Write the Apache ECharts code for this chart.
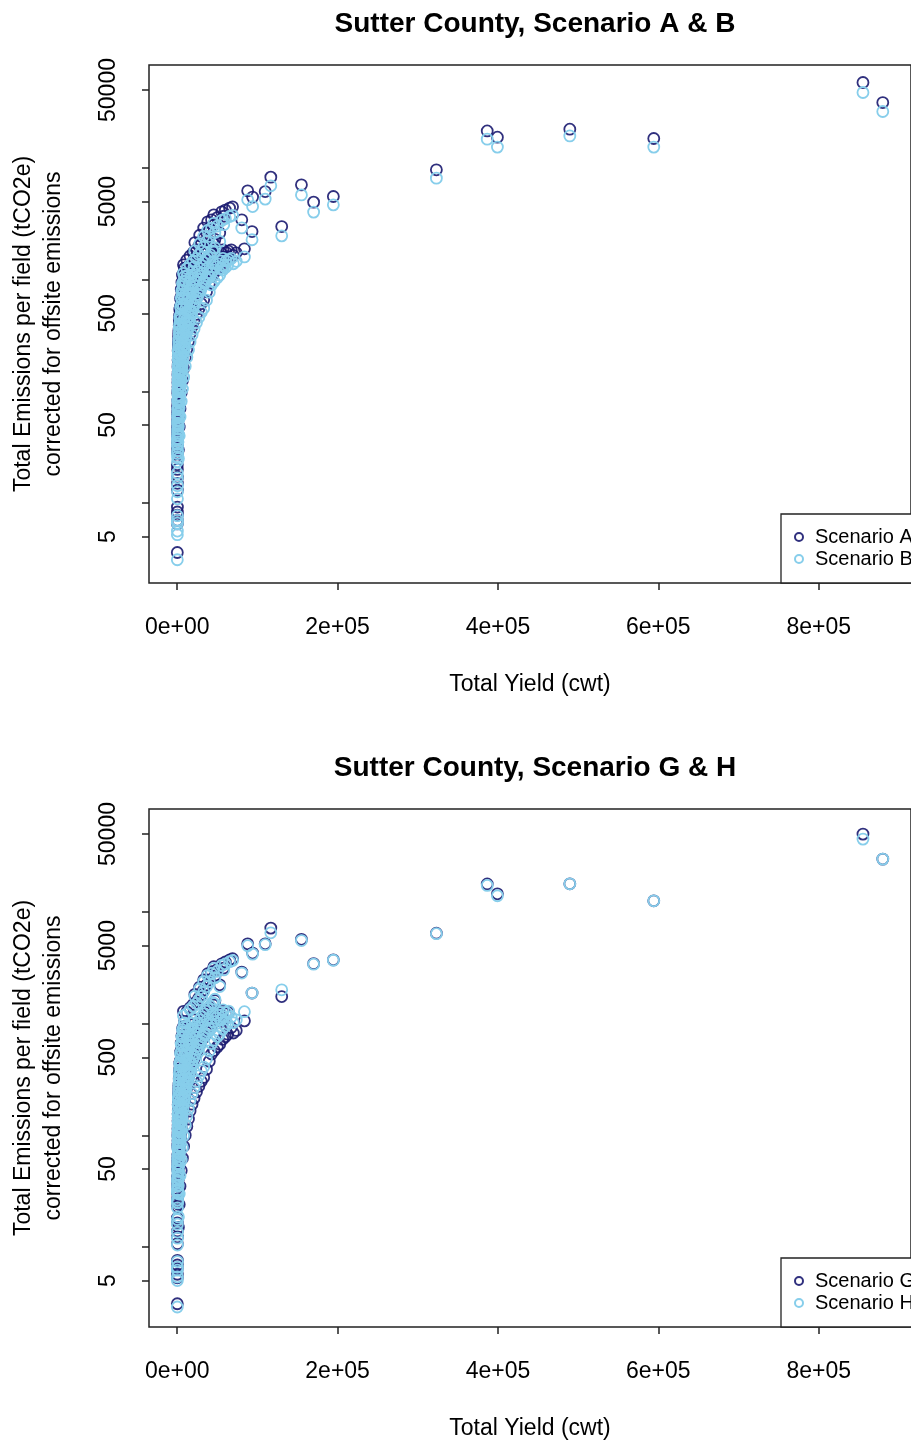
<!DOCTYPE html>
<html>
<head>
<meta charset="utf-8">
<script src="https://cdn.jsdelivr.net/npm/echarts@6/dist/echarts.min.js"></script>
<style>
  html, body { margin: 0; padding: 0; background: #fff; }
  #chart { width: 911px; height: 1441px; }
</style>
</head>
<body>
<div id="chart"></div>
<script>
// Total yield per field (cwt); each index is one field, shared by all scenarios.
// Groups: small fields, mid fill, lower branch, upper branch, body fill, large fields.
const yieldCwt = [
  100,150,200,250,120,180,300,350,400,450,
  500,600,650,700,800,900,1000,1100,1200,1300,
  1400,1600,1900,2300,2800,3300,3800,4300,4900,5500,
  6100,6700,7300,7800,8300,9000,300,500,700,900,
  1100,1400,1800,2500,3000,3600,4200,5000,5800,6500,
  250,400,600,800,1000,1200,1500,2000,2600,3200,
  200,150,300,250,350,
  3000,4000,5000,6000,7000,8000,9000,10000,11000,12000,
  13000,14000,15000,16500,18000,19500,21000,23000,25000,27000,
  29000,31000,34000,37000,40000,44000,46000,2000,2500,3500,
  1500,2500,3500,5000,6500,8000,10000,12000,14000,16000,
  18500,21000,24000,27000,30000,33000,36500,40000,42800,46000,
  50000,53000,56700,60000,62800,67400,73600,70000,
  7800,12000,16000,20000,24300,27000,30400,33000,36600,40000,
  42800,45600,50000,53000,55500,60000,65300,69000,38000,47000,
  58000,33000,28000,22000,
  600,900,1200,1500,1800,2100,2400,2800,3200,3600,
  4000,4500,5000,5500,6000,6600,7200,7800,8500,9200,
  10000,11000,12000,13000,14000,15000,16500,18000,19500,21000,
  300,500,700,900,1100,1300,1600,1900,2200,2600,
  3000,3400,3900,4400,5000,5600,6200,6900,7600,8400,
  9200,10000,11000,12000,13200,14500,16000,17500,19000,21000,
  22500,24000,26000,28000,30000,32000,34500,37000,39500,42000,
  23000,25500,28000,30500,33000,35500,38000,41000,44000,47000,
  15000,17000,19000,21000,11000,13000,9500,8000,10500,12500,
  45000,48000,51000,54000,57000,61000,64000,58000,55000,
  116700,154900,87860,109700,94000,170100,194700,323200,386600,399300,
  489600,594300,855200,879900,130300,93300,80500,83800
];

// Total emissions per field (tCO2e), corrected for offsite emissions
const scenarioA = [
  3.6,7.8,8.3,9.2,22,20,28,33,38,44,
  52,60,70,82,95,110,128,150,175,205,
  240,280,320,360,410,460,520,580,650,720,
  800,880,960,1060,1160,1270,40,65,100,140,
  190,260,300,390,480,560,680,820,950,1100,
  31,48,75,120,165,230,270,340,440,540,
  7.0,6.5,15,13,17,
  150,180,250,210,300,380,290,450,360,520,
  420,640,500,760,600,900,700,1050,820,1200,
  950,1350,1100,1500,1250,1700,2100,100,130,200,
  30,48,70,97,125,160,200,240,280,330,
  380,430,490,550,610,660,780,920,1070,1150,
  1240,1310,1450,1530,1610,1850,1740,1650,
  1360,1500,1630,1750,1850,2000,2140,2350,2620,2900,
  3440,3810,3600,2620,4050,4200,4380,4490,3300,3150,
  3700,2900,2500,2150,
  35,42,50,58,66,75,85,96,108,120,
  135,150,165,185,200,220,240,265,290,315,
  345,375,410,445,480,520,560,610,660,710,
  45,55,62,72,85,97,110,125,140,160,
  180,205,230,260,290,325,360,400,440,490,
  540,600,660,720,790,860,940,1020,1100,1200,
  760,820,880,940,1000,1060,1130,1200,1270,1350,
  1300,1400,1500,1600,1700,1800,1900,2000,2150,2300,
  1100,1250,1400,1550,900,1000,800,700,1150,1300,
  1450,1550,1650,1750,1850,1750,1800,1600,1500,
  8290,7070,6250,6160,5490,4950,5560,9640,21500,18900,
  22300,18400,58400,38600,2990,2700,3440,1890
];

const scenarioB = [
  3.1,6.6,7.0,7.7,18.5,16.8,23.5,27.7,32,37,
  43.7,50.4,58.8,68.9,79.8,92.4,107.5,126,147,172,
  202,235,269,302,344,386,437,487,546,605,
  672,739,806,890,974,1067,33.6,54.6,84,117.6,
  160,218,252,328,403,470,571,689,798,924,
  26,40.3,63,100.8,138.6,193,227,286,370,454,
  5.6,5.2,12.6,10.9,14.3,
  126,151,210,176,252,319,244,378,302,437,
  353,538,420,638,504,756,588,882,689,1008,
  798,1134,924,1260,1050,1428,1764,84,109,168,
  25,40,59,81.5,105,134,168,202,235,277,
  319,361,412,462,512,554,655,773,899,966,
  1040,1100,1220,1285,1350,1550,1460,1390,
  1140,1260,1370,1470,1550,1680,1800,1970,2200,2440,
  2890,3200,3020,2200,3400,3530,3680,3770,2770,2650,
  3110,2440,2100,1810,
  29.4,35.3,42,48.7,55.4,63,71.4,80.6,90.7,100.8,
  113,126,139,155,168,185,202,223,244,265,
  290,315,344,374,403,437,470,512,554,596,
  37.8,46.2,52,60.5,71.4,81.5,92.4,105,117.6,134.4,
  151,172,193,218,244,273,302,336,370,412,
  454,504,554,605,664,722,790,857,924,1008,
  638,689,739,790,840,890,949,1008,1067,1134,
  1092,1176,1260,1344,1428,1512,1596,1680,1806,1932,
  924,1050,1176,1302,756,840,672,588,966,1092,
  1218,1302,1386,1470,1554,1470,1512,1344,1260,
  6930,5750,5190,5270,4520,4030,4680,8120,18150,15400,
  19400,15400,47500,32100,2470,2280,2910,1600
];

const scenarioG = [
  3.1,6.4,6.9,7.6,18.2,16.4,23,27,31,36,
  42.6,49,57.4,67,78,90,105,123,143.5,168,
  197,230,262,295,336,377,426,476,533,590,
  656,722,787,869,951,1041,32.8,53.3,82,114.8,
  156,213,246,320,394,459,558,672,779,902,
  25.4,39.4,61.5,98.4,135.3,188.6,221,279,361,443,
  5.7,5.3,12.3,10.7,13.9,
  105,126,175,147,210,266,203,315,252,364,
  294,448,350,532,420,630,490,735,574,840,
  665,945,770,1050,875,1190,1470,70,91,140,
  15,24,35,48.5,62.5,80,100,120,140,165,
  190,215,245,275,305,330,390,460,535,575,
  620,655,725,765,805,925,870,825,
  1290,1280,1390,1490,1570,1700,1820,2000,2230,2470,
  2920,3240,3060,2230,3440,3570,3720,3820,2800,2680,
  3150,2470,2130,1830,
  24.5,29.4,35,40.6,46.2,52.5,59.5,67.2,75.6,84,
  94.5,105,115.5,129.5,140,154,168,185.5,203,220.5,
  241.5,262.5,287,311.5,336,364,392,427,462,497,
  31.5,38.5,43.4,50.4,59.5,67.9,77,87.5,98,112,
  126,143.5,161,182,203,227.5,252,280,308,343,
  378,420,462,504,553,602,658,714,770,840,
  532,574,616,658,700,742,791,840,889,945,
  910,980,1050,1120,1190,1260,1330,1400,1505,1610,
  770,875,980,1085,630,700,560,490,805,910,
  1015,1085,1155,1225,1295,1225,1260,1120,1050,
  7180,5700,5190,5190,4290,3450,3730,6470,17850,14560,
  17900,12600,49900,29800,1750,1880,2900,1060
];

const scenarioH = [
  2.9,6.2,6.6,7.4,17.6,16.0,22.4,26.4,30.4,35,
  41.6,48,56,65.6,76,88,102,120,140,164,
  192,224,256,288,328,368,416,464,520,576,
  640,704,768,848,928,1016,32,52,80,112,
  152,208,240,312,384,448,544,656,760,880,
  24.8,38.4,60,96,132,184,216,272,352,432,
  5.4,5.0,12,10.4,13.6,
  108,130,180,151,216,274,209,324,259,374,
  302,461,360,547,432,648,504,756,590,864,
  684,972,792,1080,900,1224,1512,72,94,144,
  18.6,29.8,43.4,60,77.5,99,124,149,174,205,
  236,267,304,341,378,409,484,570,663,713,
  769,812,899,949,998,1150,1080,1020,
  1180,1230,1340,1435,1520,1640,1755,1930,2150,2380,
  2820,3120,2950,2150,3320,3440,3590,3680,2710,2580,
  3030,2380,2050,1760,
  25.2,30.2,36,41.8,47.5,54,61.2,69.1,77.8,86.4,
  97.2,108,118.8,133,144,158,173,191,209,227,
  248,270,295,320,346,374,403,439,475,511,
  32.4,39.6,44.6,51.8,61.2,69.8,79.2,90,100.8,115.2,
  129.6,147.6,165.6,187,209,234,259,288,317,353,
  389,432,475,518,569,619,677,734,792,864,
  547,590,634,677,720,763,814,864,914,972,
  936,1008,1080,1152,1224,1296,1368,1440,1548,1656,
  792,900,1008,1116,648,720,576,504,828,936,
  1044,1116,1188,1260,1332,1260,1296,1152,1080,
  6520,5550,5000,5100,4200,3410,3700,6400,17300,14000,
  17900,12600,45000,29800,2010,1880,2840,1280
];

// Axis ticks and labels
const xTicks = [0, 200000, 400000, 600000, 800000];
const yTicks = [5, 10, 50, 100, 500, 1000, 5000, 10000, 50000];
const yLabels = [5, 50, 500, 5000, 50000];

const panelTitles = ['Sutter County, Scenario A & B', 'Sutter County, Scenario G & H'];
const panelSeries = [['Scenario A', 'Scenario B'], ['Scenario G', 'Scenario H']];
const xTitle = 'Total Yield (cwt)';
const yTitle = 'Total Emissions per field (tCO2e)\ncorrected for offsite emissions';

const FONT = '"Liberation Sans", Arial, Helvetica, sans-serif';
const DARK = '#191970';
const LIGHT = '#87CEEB';

function sciLabel(v) {
  const parts = Number(v).toExponential().split('e');
  const n = parseInt(parts[1], 10);
  return parts[0] + 'e' + (n < 0 ? '-' : '+') + String(Math.abs(n)).padStart(2, '0');
}

const gridTops = [65, 809];
const PANEL_SHIFT = 744;

const grids = gridTops.map(t => ({
  left: 149, top: t, width: 770, height: 518,
  show: true, borderColor: '#222', borderWidth: 1.5, backgroundColor: 'transparent'
}));

const xAxes = gridTops.map((t, i) => ({
  type: 'value', gridIndex: i, min: -35200, max: 915100,
  axisLine: { show: false, onZero: false },
  splitLine: { show: false },
  axisTick: { show: true, length: 7, lineStyle: { color: '#222', width: 1.5 }, customValues: xTicks },
  axisLabel: { customValues: xTicks, formatter: sciLabel, margin: 33, fontSize: 23, color: '#000', fontFamily: FONT },
  name: xTitle, nameLocation: 'middle', nameGap: 90,
  nameTextStyle: { fontSize: 23, color: '#000', fontFamily: FONT }
}));

const yAxes = gridTops.map((t, i) => ({
  type: 'log', logBase: 10, gridIndex: i, min: 1.92, max: 83750,
  axisLine: { show: false, onZero: false },
  splitLine: { show: false },
  minorTick: { show: false },
  axisTick: { show: true, length: 7, lineStyle: { color: '#222', width: 1.5 }, customValues: yTicks },
  axisLabel: {
    customValues: yLabels, rotate: 90, margin: 29, fontSize: 23, color: '#000', fontFamily: FONT,
    formatter: v => String(+Number(v).toPrecision(6))
  },
  name: yTitle, nameLocation: 'middle', nameRotate: 90, nameGap: 80,
  nameTextStyle: { fontSize: 23, lineHeight: 30.5, color: '#000', fontFamily: FONT, align: 'center' }
}));

function scatter(name, values, idx, color, opacity) {
  return {
    type: 'scatter', name: name, xAxisIndex: idx, yAxisIndex: idx,
    data: yieldCwt.map((x, i) => [x, values[i]]),
    symbol: 'circle', symbolSize: 11,
    itemStyle: { color: 'rgba(255,255,255,0)', borderColor: color, borderWidth: 1.8, opacity: opacity },
    emphasis: { disabled: true },
    silent: true
  };
}

const legends = gridTops.map((t, i) => ({
  orient: 'vertical', left: 781, top: t + 449,
  data: panelSeries[i],
  backgroundColor: '#fff',
  borderColor: '#222', borderWidth: 1.3, borderRadius: 0,
  padding: [12, 12, 13, 13],
  itemWidth: 22, itemHeight: 8, itemGap: 0,
  textStyle: { fontSize: 20, lineHeight: 22, color: '#000', fontFamily: FONT },
  selectedMode: false
}));

const titles = panelTitles.map((txt, i) => ({
  type: 'text', x: 535, y: 24 + i * PANEL_SHIFT, z: 10,
  style: {
    text: txt, fill: '#000', font: 'bold 28px ' + FONT,
    textAlign: 'center', textVerticalAlign: 'middle', align: 'center', verticalAlign: 'middle'
  }
}));

const chart = echarts.init(document.getElementById('chart'), null, { renderer: 'canvas' });
chart.setOption({
  animation: false,
  backgroundColor: '#fff',
  grid: grids,
  xAxis: xAxes,
  yAxis: yAxes,
  legend: legends,
  graphic: titles,
  series: [
    scatter('Scenario A', scenarioA, 0, DARK, 0.9),
    scatter('Scenario B', scenarioB, 0, LIGHT, 1),
    scatter('Scenario G', scenarioG, 1, DARK, 0.9),
    scatter('Scenario H', scenarioH, 1, LIGHT, 1)
  ]
});
</script>
</body>
</html>
